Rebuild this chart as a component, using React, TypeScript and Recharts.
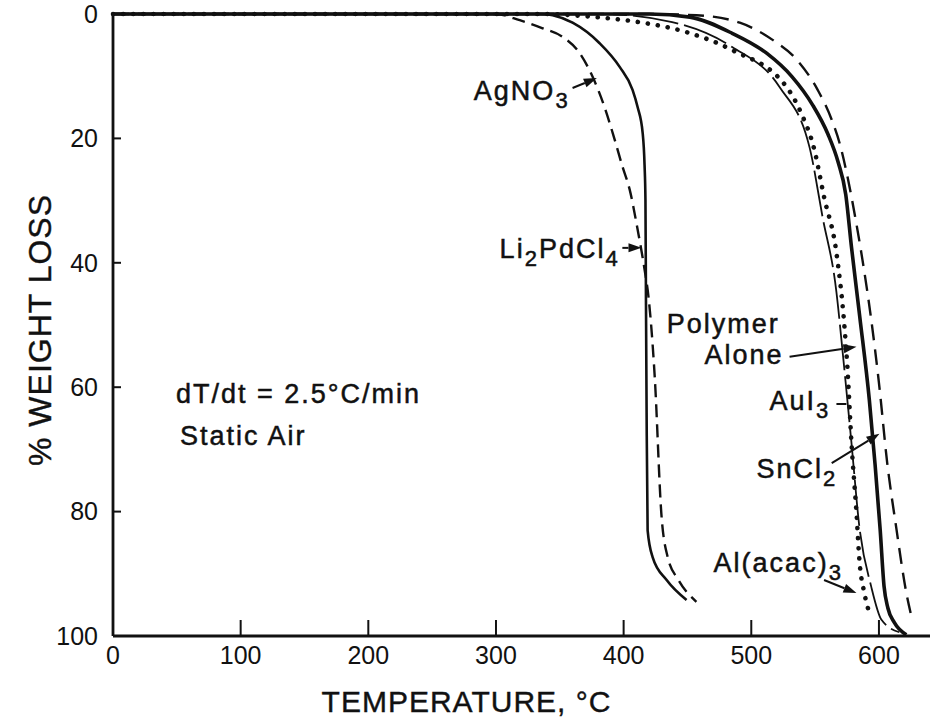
import { LineChart, Line, XAxis, YAxis, ReferenceDot, ReferenceLine } from 'recharts'

const FONT = '"Liberation Sans", Arial, sans-serif'
const INK = '#111'

// temperature (°C) ticks and % weight loss ticks
const tempTicks = [0, 100, 200, 300, 400, 500, 600]
const lossTicks = [0, 20, 40, 60, 80, 100]

// [temperature °C, % weight loss]
const agNO3: [number, number][] = [
  [0, 0], [300, 0], [318.6, 1], [336.6, 2.3], [352.3, 3.7], [365.6, 6.3], [375.7, 10.1], [385.1, 15],
  [391.4, 19.1], [399.2, 24.6], [404.7, 28.2], [411, 34.7], [416.5, 41.2], [419.5, 45.5], [424.5, 58.8],
  [429.5, 80.2], [434.5, 87.3], [443, 91], [457, 94.5],
]
const li2PdCl4: [number, number][] = [
  [0, 0], [335, 0], [344.4, 0.2], [360, 1.4], [381.2, 4.7], [396.9, 8.5], [407, 12.2], [411, 15],
  [414.9, 19.1], [416.4, 24.3], [417.1, 29.9], [417.5, 46], [418, 64.1], [418.8, 83], [422.7, 87.3],
  [433.7, 91], [449.3, 94.2],
]
const polymerAlone: [number, number][] = [
  [0, 0], [420, 0], [452, 0.5], [485, 3.1], [512, 6.3], [532, 10.1], [548, 14.6], [560, 19.3],
  [568, 23.8], [574, 29], [578.5, 37.5], [585, 48.7], [592.5, 62.1], [597, 72.5], [601, 83],
  [604, 92], [607, 95.5], [612, 97.8], [621.5, 99.8],
]
const snCl2: [number, number][] = [
  [0, 0], [420, 0], [457, 0.2], [491, 1.4], [517, 4.2], [535, 7.2], [552, 12.2], [563, 17],
  [569.5, 21], [575, 25.8], [581, 32.2], [587, 39.4], [594, 49.2], [600, 59.3], [606.5, 72.2],
  [613.5, 82.5], [621.5, 93.1], [625.5, 96.9],
]
const auI3: [number, number][] = [
  [0, 0], [381, 0], [438, 1.3], [485, 5.3], [522, 11.7], [545.6, 21.4], [555.8, 32.6],
  [566.7, 44.7], [571.4, 54], [578.5, 69], [584.7, 82.5], [594, 92.1], [602, 97.4], [616, 99.4],
]
const alAcac3: [number, number][] = [
  [0, 0], [340, 0], [360, 0.2], [383.5, 0.6], [415, 1.4], [449, 2.9], [485, 5.8], [527.5, 11.7],
  [539, 15.9], [549.5, 21.9], [557, 29.4], [566.7, 38.4], [573, 50.3], [575.3, 56.8], [578.5, 69],
  [582.4, 80.2], [584.7, 87.8], [588.6, 93.1], [592.5, 96.3],
]

const rows = (pts: [number, number][]) => pts.map(([t, l]) => ({ t, l }))

const series = [
  { key: 'agno3', pts: agNO3, width: 2.4, dash: '13 7', cap: 'butt' },
  { key: 'li2pdcl4', pts: li2PdCl4, width: 2.6, dash: undefined, cap: 'butt' },
  { key: 'polymer', pts: polymerAlone, width: 3.6, dash: undefined, cap: 'butt' },
  { key: 'sncl2', pts: snCl2, width: 2.4, dash: '16 9', cap: 'butt' },
  { key: 'aui3', pts: auI3, width: 1.8, dash: '46 6', cap: 'butt' },
  { key: 'alacac3', pts: alAcac3, width: 4.6, dash: '0.1 10', cap: 'round' },
]

// labels: text parts [string, subscript?], anchored in data coordinates
type Part = [string, boolean]
const notes: { t: number; l: number; anchor: 'start' | 'end'; parts: Part[] }[] = [
  { t: 357.7, l: 13.8, anchor: 'end', parts: [['AgNO', false], ['3', true]] },
  { t: 396.9, l: 39.2, anchor: 'end', parts: [['Li', false], ['2', true], ['PdCl', false], ['4', true]] },
  { t: 433.7, l: 51.3, anchor: 'start', parts: [['Polymer', false]] },
  { t: 463.4, l: 56.3, anchor: 'start', parts: [['Alone', false]] },
  { t: 514.3, l: 63.7, anchor: 'start', parts: [['AuI', false], ['3', true]] },
  { t: 504, l: 74.6, anchor: 'start', parts: [['SnCl', false], ['2', true]] },
  { t: 470.5, l: 89.7, anchor: 'start', parts: [['Al(acac)', false], ['3', true]] },
  { t: 49.3, l: 62.5, anchor: 'start', parts: [['dT/dt = 2.5°C/min', false]] },
  { t: 52.4, l: 69.3, anchor: 'start', parts: [['Static Air', false]] },
]

// pointer lines [fromT, fromL, toT, toL, arrowhead]
const pointers: [number, number, number, number, boolean][] = [
  [360, 11.9, 379, 10.3, true],
  [399, 37.6, 414, 37.6, true],
  [530, 55.1, 582.4, 53.5, true],
  [566.7, 62.7, 574.5, 62.7, false],
  [563, 72.2, 600.4, 67.5, true],
  [557, 91, 582.4, 93.1, true],
]

function NoteText({ cx, cy, anchor, parts }: { cx?: number; cy?: number; anchor: 'start' | 'end'; parts: Part[] }) {
  let shift = 0
  return (
    <text x={cx} y={cy} textAnchor={anchor} fontFamily={FONT} fontSize={27} letterSpacing={2} fill={INK} stroke={INK} strokeWidth={0.5}>
      {parts.map(([s, sub], i) => {
        const target = sub ? 8 : 0
        const dy = target - shift
        shift = target
        return <tspan key={i} dy={dy} fontSize={sub ? 22 : 27}>{s}</tspan>
      })}
    </text>
  )
}

function Pointer(props: any) {
  const { x1, y1, x2, y2, head } = props
  const a = Math.atan2(y2 - y1, x2 - x1)
  const len = 13
  const w = 4.5
  const bx = x2 - len * Math.cos(a)
  const by = y2 - len * Math.sin(a)
  const px = -Math.sin(a) * w
  const py = Math.cos(a) * w
  return (
    <g>
      <line x1={x1} y1={y1} x2={head ? bx : x2} y2={head ? by : y2} stroke={INK} strokeWidth={2} />
      {head && <polygon points={`${x2},${y2} ${bx + px},${by + py} ${bx - px},${by - py}`} fill={INK} />}
    </g>
  )
}

export default function App() {
  return (
    <div style={{ position: 'absolute', left: 0, top: 0, width: 932, height: 728, background: '#fff' }}>
      <LineChart width={932} height={728} margin={{ top: 14, right: 2, bottom: 0, left: 0 }}>
        <XAxis
          type="number"
          dataKey="t"
          domain={[0, 640]}
          ticks={tempTicks}
          height={92}
          tickSize={-16}
          tickMargin={26}
          axisLine={{ stroke: INK, strokeWidth: 2.8 }}
          tickLine={{ stroke: INK, strokeWidth: 2 }}
          tick={{ fill: INK, fontSize: 25, fontFamily: FONT }}
          label={(p: any) => (
            <text x={p.viewBox.x + p.viewBox.width / 2 - 55} y={p.viewBox.y + 76} textAnchor="middle" fontFamily={FONT} fontSize={30} letterSpacing={1} fill={INK} stroke={INK} strokeWidth={0.4}>
              TEMPERATURE, °C
            </text>
          )}
        />
        <YAxis
          type="number"
          dataKey="l"
          domain={[0, 100]}
          reversed
          ticks={lossTicks}
          width={113}
          tickSize={-8}
          tickMargin={23}
          axisLine={{ stroke: INK, strokeWidth: 2.8 }}
          tickLine={{ stroke: INK, strokeWidth: 2 }}
          tick={{ fill: INK, fontSize: 25, fontFamily: FONT }}
          label={(p: any) => (
            <text x={40} y={p.viewBox.y + p.viewBox.height / 2 + 5} transform={`rotate(-90 40 ${p.viewBox.y + p.viewBox.height / 2 + 5})`} textAnchor="middle" dominantBaseline="central" fontFamily={FONT} fontSize={32} letterSpacing={1} fill={INK} stroke={INK} strokeWidth={0.4}>
              % WEIGHT LOSS
            </text>
          )}
        />
        {series.map((s) => (
          <Line
            key={s.key}
            data={rows(s.pts)}
            dataKey="l"
            type="monotone"
            stroke={INK}
            strokeWidth={s.width}
            strokeDasharray={s.dash}
            strokeLinecap={s.cap as any}
            dot={false}
            activeDot={false}
            isAnimationActive={false}
          />
        ))}
        {pointers.map(([t1, l1, t2, l2, head], i) => (
          <ReferenceLine
            key={`p${i}`}
            segment={[{ x: t1, y: l1 }, { x: t2, y: l2 }]}
            ifOverflow="visible"
            shape={(p: any) => <Pointer {...p} head={head} />}
          />
        ))}
        {notes.map((n, i) => (
          <ReferenceDot
            key={`n${i}`}
            x={n.t}
            y={n.l}
            r={0}
            ifOverflow="visible"
            shape={(p: any) => <NoteText cx={p.cx} cy={p.cy} anchor={n.anchor} parts={n.parts} />}
          />
        ))}
      </LineChart>
    </div>
  )
}
